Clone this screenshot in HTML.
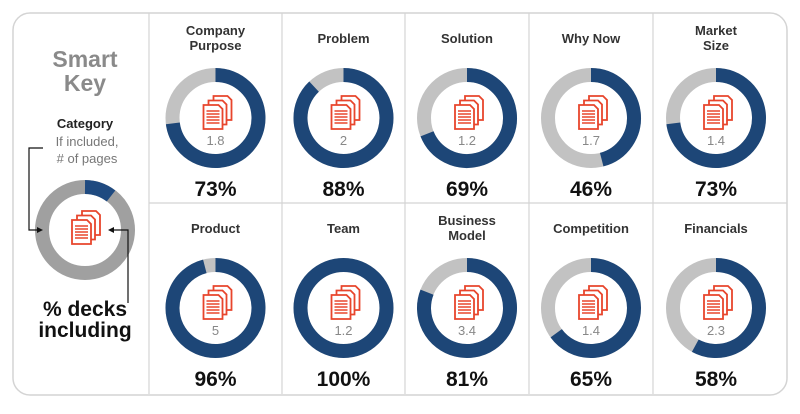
<!DOCTYPE html>
<html><head><meta charset="utf-8">
<style>
body{margin:0;background:#fff;width:800px;height:409px;overflow:hidden;font-family:"Liberation Sans",sans-serif}
svg text{font-family:"Liberation Sans",sans-serif}
</style></head>
<body>
<svg width="800" height="409" viewBox="0 0 800 409">
<defs>
<g id="docs">
 <g fill="#fff" stroke="#e8452c" stroke-width="1.8">
  <path d="M10,-18 h14 l4,4 v20 h-18z"/>
  <path d="M5,-13.5 h14 l4,4 v20 h-18z"/>
  <path d="M0,-9 h15 l4,4 v20 h-19z"/>
 </g>
 <g stroke="#e8452c" stroke-width="1.5">
  <line x1="3" y1="-3" x2="16" y2="-3"/><line x1="3" y1="0" x2="16" y2="0"/>
  <line x1="3" y1="3" x2="16" y2="3"/><line x1="3" y1="6" x2="16" y2="6"/>
  <line x1="3" y1="9" x2="16" y2="9"/>
 </g>
</g>
</defs>
<path d="M30,13 H770 a17,17 0 0 1 17,17 V378 a17,17 0 0 1 -17,17 H30 a17,17 0 0 1 -17,-17 V30 a17,17 0 0 1 17,-17z" fill="#fff" stroke="#d4d4d4" stroke-width="1.5"/>
<g id="grid" stroke="#d4d4d4" stroke-width="1.2"></g>
<g>
 <text x="85" y="67" text-anchor="middle" font-size="23" font-weight="bold" fill="#8a8a8a">Smart</text>
 <text x="85" y="91" text-anchor="middle" font-size="23" font-weight="bold" fill="#8a8a8a">Key</text>
 <text x="85" y="128" text-anchor="middle" font-size="13" font-weight="bold" fill="#222">Category</text>
 <text x="87" y="146" text-anchor="middle" font-size="13" fill="#777">If included,</text>
 <text x="87" y="163" text-anchor="middle" font-size="13" fill="#777"># of pages</text>
 <circle cx="85" cy="230" r="43" fill="none" stroke="#a0a0a0" stroke-width="14"/>
 <path d="M85,187 A43,43 0 0 1 111,196" fill="none" stroke="#1f4a80" stroke-width="14"/>
 <use href="#docs" x="72" y="229"/>
 <polyline points="43,148 29,148 29,230 40,230" fill="none" stroke="#111" stroke-width="1.2"/>
 <polygon points="43,230 37,227 37,233" fill="#111"/>
 <polyline points="111,230 128,230 128,303" fill="none" stroke="#111" stroke-width="1.2"/>
 <polygon points="108,230 114,227 114,233" fill="#111"/>
 <text x="85" y="316" text-anchor="middle" font-size="21" font-weight="bold" fill="#111">% decks</text>
 <text x="85" y="337" text-anchor="middle" font-size="21" font-weight="bold" fill="#111">including</text>
</g>
<g id="cells"></g>
</svg>
<script>
const categories=[["Company","Purpose"],["Problem"],["Solution"],["Why Now"],["Market","Size"],["Product"],["Team"],["Business","Model"],["Competition"],["Financials"]];
const percents=[73,88,69,46,73,96,100,81,65,58];
const pages=["1.8","2","1.2","1.7","1.4","5","1.2","3.4","1.4","2.3"];
const NS="http://www.w3.org/2000/svg";
const colX=[149,282,405,529,653,779];
const rowY=[13,203,394];
function mk(t,a,p){const e=document.createElementNS(NS,t);for(const k in a)e.setAttribute(k,a[k]);p.appendChild(e);return e;}
const grid=document.getElementById('grid');
for(let i=0;i<colX.length-1;i++){
 const l=mk('line',{x1:colX[i],y1:13,x2:colX[i],y2:394},grid);
 
 
}
const h=mk('line',{x1:149,y1:203,x2:787,y2:203},grid);


const cells=document.getElementById('cells');
const R=43;
function arcPath(cx,cy,frac){
 if(frac>=0.999) return null;
 const a=frac*2*Math.PI;
 const x=cx+R*Math.sin(a), y=cy-R*Math.cos(a);
 return `M${cx},${cy-R} A${R},${R} 0 ${frac>0.5?1:0} 1 ${x.toFixed(2)},${y.toFixed(2)}`;
}
categories.forEach((cat,i)=>{
 const r=Math.floor(i/5),c=i%5;
 const cx=(colX[c]+colX[c+1])/2, top=rowY[r];
 const cy=top+105;
 const g=mk('g',{},cells);
 
 
 const ty=cat.length>1?top+22:top+30;
 cat.forEach((ln,j)=>{const t=mk('text',{x:cx,y:ty+j*15,'text-anchor':'middle','font-size':13,'font-weight':'bold',fill:'#333'},g);t.textContent=ln;});
 const bg=mk('circle',{cx:cx,cy:cy,r:R,fill:'none',stroke:'#c2c2c2','stroke-width':14},g);
 
 
 const frac=percents[i]/100;
 const d=arcPath(cx,cy,frac);
 let arc;
 if(d) arc=mk('path',{d:d,fill:'none',stroke:'#1d4677','stroke-width':14},g);
 else arc=mk('circle',{cx:cx,cy:cy,r:R,fill:'none',stroke:'#1d4677','stroke-width':14},g);
 
 
 const u=mk('use',{href:'#docs',x:cx-12,y:cy-4},g);
 
 
 const pt=mk('text',{x:cx,y:cy+27,'text-anchor':'middle','font-size':13,fill:'#888'},g);
 pt.textContent=pages[i];
 
 
 const pc=mk('text',{x:cx,y:top+183,'text-anchor':'middle','font-size':21,'font-weight':'bold',fill:'#111'},g);
 pc.textContent=percents[i]+'%';
 
 
});
</script>
</body></html>
